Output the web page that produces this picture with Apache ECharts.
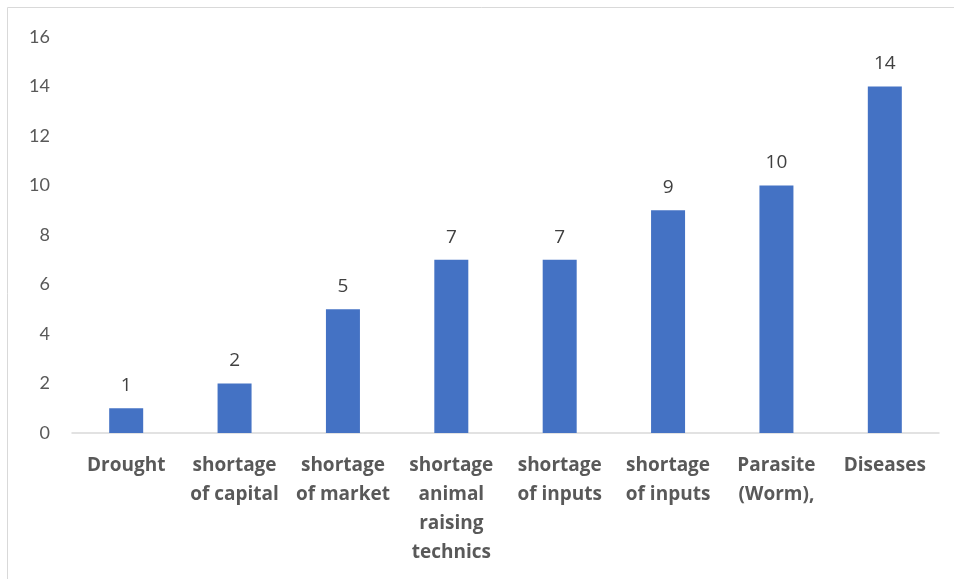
<!DOCTYPE html>
<html>
<head>
<meta charset="utf-8">
<script src="https://cdn.jsdelivr.net/npm/echarts@6/dist/echarts.min.js"></script>
<style>
  html, body { margin: 0; padding: 0; background: #fff; }
  #chart { width: 954px; height: 579px; }
</style>
</head>
<body>
<div id="chart"></div>
<script>
// chart data
var categories = [
  'Drought',
  'shortage\nof capital',
  'shortage\nof market',
  'shortage\nanimal\nraising\ntechnics',
  'shortage\nof inputs',
  'shortage\nof inputs',
  'Parasite\n(Worm),',
  'Diseases'
];
var counts = [1, 2, 5, 7, 7, 9, 10, 14];
var yTicks = [0, 2, 4, 6, 8, 10, 12, 14, 16];

var myChart = echarts.init(document.getElementById('chart'));
myChart.setOption({
  animation: false,
  textStyle: { fontFamily: 'Lato, sans-serif' },
  graphic: [{
    type: 'rect',
    shape: { x: 7.5, y: 7.5, width: 1000, height: 700 },
    style: { fill: 'none', stroke: '#d9d9d9', lineWidth: 1 },
    silent: true
  }],
  grid: { left: 72, right: 15, top: 37, bottom: 146 },
  xAxis: {
    type: 'category',
    data: categories,
    axisLine: { lineStyle: { color: '#d9d9d9', width: 1.5 } },
    axisTick: { show: false },
    axisLabel: {
      interval: 0,
      margin: 18,
      color: '#595959',
      fontFamily: '"Open Sans", sans-serif',
      fontWeight: 'bold',
      fontSize: 19,
      lineHeight: 29
    }
  },
  yAxis: {
    type: 'value',
    min: yTicks[0],
    max: yTicks[yTicks.length - 1],
    interval: 2,
    splitLine: { show: false },
    axisLine: { show: false },
    axisTick: { show: false },
    axisLabel: { color: '#595959', fontSize: 18, margin: 22 }
  },
  series: [{
    type: 'bar',
    data: counts,
    barWidth: 34,
    itemStyle: { color: '#4472c4' },
    label: {
      show: true,
      position: 'top',
      distance: 13,
      color: '#404040',
      fontFamily: '"Open Sans", sans-serif',
      fontSize: 19
    }
  }]
});
</script>
</body>
</html>
